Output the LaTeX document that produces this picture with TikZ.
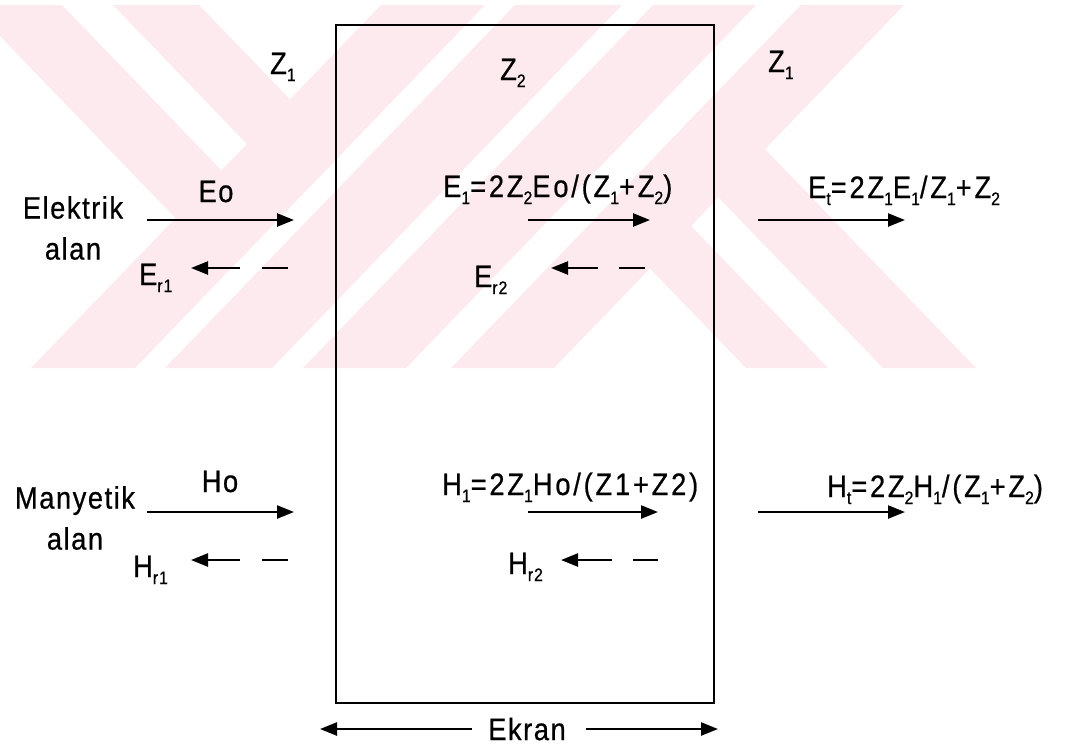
\documentclass[tikz,border=0pt]{standalone}
\usepackage{fontspec}
\setmainfont{Liberation Sans}[LetterSpace=5,FakeStretch=0.88,FakeBold=0.6]
\newfontfamily\widefont{Liberation Sans}[LetterSpace=9,FakeStretch=0.88,FakeBold=0.6]
\usetikzlibrary{arrows.meta}
\definecolor{wmpink}{RGB}{253,234,238}
\newcommand{\lo}[1]{\raisebox{-7pt}{\fontsize{18}{18}\selectfont #1}}
\begin{document}
\begin{tikzpicture}[x=1pt,y=-1pt,
  lbl/.style={inner sep=0pt, font=\fontsize{31}{33}\selectfont},
  fml/.style={inner sep=0pt, anchor=base west, font=\widefont\fontsize{31}{33}\selectfont},
  two/.style={inner sep=0pt, align=center, font=\fontsize{31}{41}\selectfont},
  arr/.style={line width=2.4pt, -{Triangle[length=17pt,width=13pt]}},
  seg/.style={line width=2.4pt},
  screen/.style={line width=2.6pt}]
% background and bounding box
\fill[white] (0,0) rectangle (1081,748);
\useasboundingbox (0,0) rectangle (1081,748);
% watermark
\begin{scope}
  \clip (0,5) rectangle (985,368);
  \fill[wmpink] (381,5)--(485,5)--(135,368)--(31,368)--cycle;
  \fill[wmpink] (515,5)--(622,5)--(272,368)--(165,368)--cycle;
  \fill[wmpink] (653,5)--(756,5)--(406,368)--(303,368)--cycle;
  \fill[wmpink] (801,5)--(904,5)--(554,368)--(451,368)--cycle;
  \begin{scope}
    \clip (-60,5)--(485,5)--(135,368)--(-60,368)--cycle;
    \fill[wmpink] (-30,5)--(62,5)--(412,368)--(320,368)--cycle;
    \fill[wmpink] (113,5)--(199,5)--(549,368)--(463,368)--cycle;
  \end{scope}
  \begin{scope}
    \clip (801,5)--(1100,5)--(1100,368)--(451,368)--cycle;
    \fill[wmpink] (396,5)--(478,5)--(828,368)--(746,368)--cycle;
    \fill[wmpink] (533,5)--(626,5)--(976,368)--(883,368)--cycle;
  \end{scope}
\end{scope}
% screen
\draw[screen] (336,25) rectangle (714,703);
% labels of media
\node[lbl, anchor=base west] (z1l) at (270,74) {Z\lo{1}};
\node[lbl, anchor=base west] (z2) at (500,80) {Z\lo{2}};
\node[lbl, anchor=base west] (z1r) at (768,72) {Z\lo{1}};
% electric field
\node[two] (el) at (73,228) {Elektrik\\alan};
\node[lbl, anchor=base] (eo) at (216,202) {Eo};
\coordinate (eoA) at (147,220); \coordinate (eoB) at (294,220);
\draw[arr] (eoA) -- (eoB);
\node[lbl, anchor=base west] (er1) at (139,285) {E\lo{r1}};
\coordinate (er1A) at (240,268); \coordinate (er1B) at (191,268);
\coordinate (er1C) at (262,268); \coordinate (er1D) at (288,268);
\draw[arr] (er1A) -- (er1B);
\draw[seg] (er1C) -- (er1D);
\node[fml] (e1) at (443,197) {E\lo{1}=2Z\lo{2}Eo/(Z\lo{1}+Z\lo{2})};
\coordinate (e1A) at (528,220); \coordinate (e1B) at (650,220);
\draw[arr] (e1A) -- (e1B);
\node[lbl, anchor=base west] (er2) at (474,287) {E\lo{r2}};
\coordinate (er2A) at (598,268); \coordinate (er2B) at (551,268);
\coordinate (er2C) at (619,268); \coordinate (er2D) at (645,268);
\draw[arr] (er2A) -- (er2B);
\draw[seg] (er2C) -- (er2D);
\node[fml] (et) at (808,198) {E\lo{t}=2Z\lo{1}E\lo{1}/Z\lo{1}+Z\lo{2}};
\coordinate (etA) at (758,220); \coordinate (etB) at (905,220);
\draw[arr] (etA) -- (etB);
% magnetic field
\node[two] (ma) at (75,518) {Manyetik\\alan};
\node[lbl, anchor=base] (ho) at (220,492) {Ho};
\coordinate (hoA) at (147,512); \coordinate (hoB) at (294,512);
\draw[arr] (hoA) -- (hoB);
\node[lbl, anchor=base west] (hr1) at (133,577) {H\lo{r1}};
\coordinate (hr1A) at (240,560); \coordinate (hr1B) at (191,560);
\coordinate (hr1C) at (262,560); \coordinate (hr1D) at (288,560);
\draw[arr] (hr1A) -- (hr1B);
\draw[seg] (hr1C) -- (hr1D);
\node[fml] (h1) at (442,495) {H\lo{1}=2Z\lo{1}Ho/(Z1+Z2)};
\coordinate (h1A) at (528,512); \coordinate (h1B) at (658,512);
\draw[arr] (h1A) -- (h1B);
\node[lbl, anchor=base west] (hr2) at (508,574) {H\lo{r2}};
\coordinate (hr2A) at (612,560); \coordinate (hr2B) at (561,560);
\coordinate (hr2C) at (633,560); \coordinate (hr2D) at (658,560);
\draw[arr] (hr2A) -- (hr2B);
\draw[seg] (hr2C) -- (hr2D);
\node[fml] (ht) at (827,497) {H\lo{t}=2Z\lo{2}H\lo{1}/(Z\lo{1}+Z\lo{2})};
\coordinate (htA) at (758,512); \coordinate (htB) at (905,512);
\draw[arr] (htA) -- (htB);
% screen label
\node[lbl] (ek) at (527,729) {Ekran};
\draw[arr] (ek.west) ++(-16,0) coordinate (ekL) -- (320,729);
\draw[arr] (ek.east) ++(20,0) coordinate (ekR) -- (718,729);
\end{tikzpicture}
\end{document}
